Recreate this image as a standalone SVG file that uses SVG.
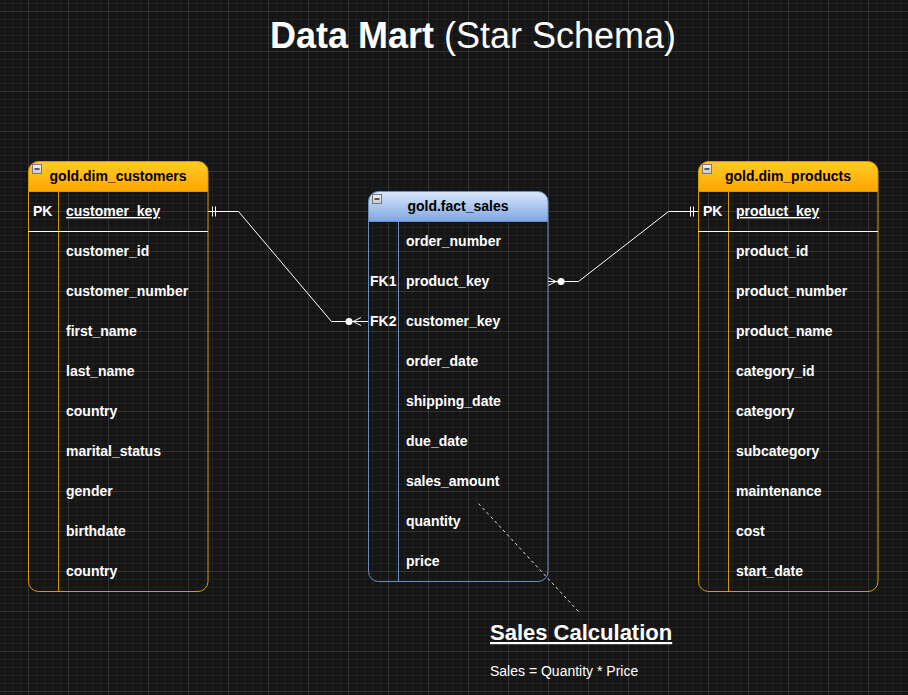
<svg xmlns="http://www.w3.org/2000/svg" width="908" height="695" viewBox="0 0 908 695">
<defs>
<pattern id="minor" x="4" y="3" width="8" height="8" patternUnits="userSpaceOnUse">
<path d="M0 0.5H8M0.5 0V8" stroke="#1f1f1f" stroke-width="1" fill="none"/>
</pattern>
<pattern id="major" x="28" y="11" width="40" height="40" patternUnits="userSpaceOnUse">
<path d="M0 0.5H40M0.5 0V40" stroke="#333333" stroke-width="1" fill="none"/>
</pattern>
<linearGradient id="gOrange" x1="0" y1="0" x2="0" y2="1">
<stop offset="0" stop-color="#ffcd28"/><stop offset="1" stop-color="#ffa500"/>
</linearGradient>
<linearGradient id="gBlue" x1="0" y1="0" x2="0" y2="1">
<stop offset="0" stop-color="#dae8fc"/><stop offset="1" stop-color="#7ea6e0"/>
</linearGradient>
<linearGradient id="gIcon" x1="0" y1="0" x2="0" y2="1">
<stop offset="0" stop-color="#f4f4f4"/><stop offset="1" stop-color="#c8c8c8"/>
</linearGradient>
<g id="minus">
<rect x="0.5" y="0.5" width="9" height="9" fill="url(#gIcon)" stroke="#777777"/>
<path d="M2.5 5H7.5" stroke="#000" stroke-width="1.2"/>
</g>
</defs>
<style>
.hdr{font-family:"Liberation Sans",Arial,sans-serif;font-weight:bold;font-size:14px;fill:#000;text-anchor:middle}
.fld{font-family:"Liberation Sans",Arial,sans-serif;font-weight:bold;font-size:14px;fill:#ffffff}
.ul{text-decoration:underline}
.ob{fill:none;stroke:#d79b00;stroke-width:1}
.bb{fill:none;stroke:#6c8ebf;stroke-width:1}
.conn{fill:none;stroke:#ffffff;stroke-width:1}
.sep{stroke:#ffffff;stroke-width:1}
</style>
<rect width="908" height="695" fill="#151515"/>
<rect width="908" height="695" fill="url(#minor)"/>
<rect width="908" height="695" fill="url(#major)"/>

<text x="473" y="48" font-family="Liberation Sans, Arial, sans-serif" font-size="36" fill="#ffffff" text-anchor="middle"><tspan font-weight="bold">Data Mart</tspan> (Star Schema)</text>

<g id="connectors">
<path class="conn" d="M208 211.5H238.5L331.5 321.5H368"/>
<path class="conn" d="M212.5 206.5V216.5M215.5 206.5V216.5"/>
<circle cx="349" cy="321.5" r="3.5" fill="#ffffff"/>
<path class="conn" d="M361 317.5L353 321.5L361 325.5"/>
<path class="conn" d="M548 281.5H578.5L668.5 211.5H698"/>
<path class="conn" d="M690.5 206.5V216.5M693.5 206.5V216.5"/>
<circle cx="561" cy="281.5" r="3.5" fill="#ffffff"/>
<path class="conn" d="M548 277.5L556 281.5L548 285.5"/>
<path d="M478.5 503.5L578.5 611.5" stroke="#e0e0e0" stroke-width="1" stroke-dasharray="3 3" fill="none"/>
</g>

<g id="dim_customers">
<path d="M28.5 191.5V171.5A10 10 0 0 1 38.5 161.5H198A10 10 0 0 1 208 171.5V191.5Z" fill="url(#gOrange)" stroke="#d79b00"/>
<path class="ob" d="M28.5 191.5V581.5A10 10 0 0 0 38.5 591.5H198A10 10 0 0 0 208 581.5V191.5"/>
<path class="ob" d="M58.5 191.5V591.5"/>
<path class="sep" d="M28.5 231.5H208"/>
<use href="#minus" x="32" y="164"/>
<text class="hdr" x="118" y="181">gold.dim_customers</text>
<text class="fld" x="33" y="216">PK</text>
<text class="fld ul" x="66" y="216">customer_key</text>
<text class="fld" x="66" y="256">customer_id</text>
<text class="fld" x="66" y="296">customer_number</text>
<text class="fld" x="66" y="336">first_name</text>
<text class="fld" x="66" y="376">last_name</text>
<text class="fld" x="66" y="416">country</text>
<text class="fld" x="66" y="456">marital_status</text>
<text class="fld" x="66" y="496">gender</text>
<text class="fld" x="66" y="536">birthdate</text>
<text class="fld" x="66" y="576">country</text>
</g>

<g id="fact_sales">
<path d="M368.5 221.5V201.5A10 10 0 0 1 378.5 191.5H538A10 10 0 0 1 548 201.5V221.5Z" fill="url(#gBlue)" stroke="#6c8ebf"/>
<path class="bb" d="M368.5 221.5V571.5A10 10 0 0 0 378.5 581.5H538A10 10 0 0 0 548 571.5V221.5"/>
<path class="bb" d="M398.5 221.5V581.5"/>
<use href="#minus" x="372" y="194"/>
<text class="hdr" x="458" y="211">gold.fact_sales</text>
<text class="fld" x="406" y="246">order_number</text>
<text class="fld" x="370" y="286">FK1</text>
<text class="fld" x="406" y="286">product_key</text>
<text class="fld" x="370" y="326">FK2</text>
<text class="fld" x="406" y="326">customer_key</text>
<text class="fld" x="406" y="366">order_date</text>
<text class="fld" x="406" y="406">shipping_date</text>
<text class="fld" x="406" y="446">due_date</text>
<text class="fld" x="406" y="486">sales_amount</text>
<text class="fld" x="406" y="526">quantity</text>
<text class="fld" x="406" y="566">price</text>
</g>

<g id="dim_products">
<path d="M698.5 191.5V171.5A10 10 0 0 1 708.5 161.5H868A10 10 0 0 1 878 171.5V191.5Z" fill="url(#gOrange)" stroke="#d79b00"/>
<path class="ob" d="M698.5 191.5V581.5A10 10 0 0 0 708.5 591.5H868A10 10 0 0 0 878 581.5V191.5"/>
<path class="ob" d="M728.5 191.5V591.5"/>
<path class="sep" d="M698.5 231.5H878"/>
<use href="#minus" x="702" y="164"/>
<text class="hdr" x="788" y="181">gold.dim_products</text>
<text class="fld" x="703" y="216">PK</text>
<text class="fld ul" x="736" y="216">product_key</text>
<text class="fld" x="736" y="256">product_id</text>
<text class="fld" x="736" y="296">product_number</text>
<text class="fld" x="736" y="336">product_name</text>
<text class="fld" x="736" y="376">category_id</text>
<text class="fld" x="736" y="416">category</text>
<text class="fld" x="736" y="456">subcategory</text>
<text class="fld" x="736" y="496">maintenance</text>
<text class="fld" x="736" y="536">cost</text>
<text class="fld" x="736" y="576">start_date</text>
</g>

<g id="sales_note">
<text x="490" y="640" font-family="Liberation Sans, Arial, sans-serif" font-size="22" font-weight="bold" fill="#ffffff" text-decoration="underline">Sales Calculation</text>
<text x="490" y="676" font-family="Liberation Sans, Arial, sans-serif" font-size="14" fill="#ffffff">Sales = Quantity * Price</text>
</g>
</svg>
